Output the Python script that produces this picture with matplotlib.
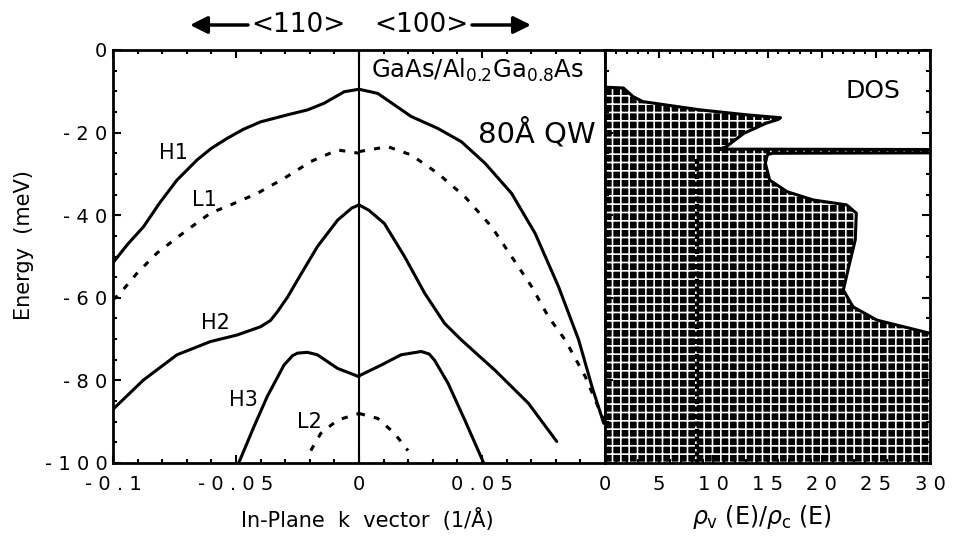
import numpy as np
import matplotlib.pyplot as plt
from matplotlib.ticker import MultipleLocator

plt.rcParams['font.family'] = ['DejaVu Sans']
plt.rcParams['hatch.linewidth'] = 1.2

# subband dispersions, left branch = <110>, right branch = <100>
h1_k_left = [-0.1, -0.094, -0.0876, -0.081, -0.074, -0.0658, -0.06, -0.0536, -0.047, -0.04, -0.0291, -0.0209, -0.0142, -0.006, 0]
h1_e_left = [-51.5, -47.0, -42.8, -37.0, -31.5, -26.6, -23.8, -21.4, -19.2, -17.4, -15.7, -14.5, -12.9, -10.1, -9.5]
h1_k_right = [0, 0.0076, 0.0144, 0.0212, 0.0321, 0.0416, 0.0512, 0.062, 0.0716, 0.0811, 0.0893, 0.0947, 0.0995]
h1_e_right = [-9.5, -10.5, -13.3, -16.1, -19.0, -22.2, -27.4, -34.7, -44.4, -57.3, -70.2, -81.5, -90.4]

l1_k_left = [-0.1, -0.0971, -0.0903, -0.0822, -0.0699, -0.0604, -0.0522, -0.0413, -0.0305, -0.0196, -0.0087, 0]
l1_e_left = [-60.5, -58.9, -54.1, -49.2, -43.6, -39.5, -37.5, -34.7, -31.1, -27.0, -24.2, -25.0]
l1_k_right = [0, 0.0117, 0.0212, 0.0321, 0.043, 0.0539, 0.062, 0.0702, 0.077, 0.0838, 0.092, 0.0995]
l1_e_right = [-24.6, -23.4, -25.4, -29.9, -35.5, -42.8, -50.0, -57.3, -64.6, -70.2, -79.1, -89.6]

h2_k_left = [-0.1, -0.0876, -0.074, -0.0604, -0.0495, -0.04, -0.036, -0.0332, -0.029, -0.025, -0.0169, -0.0087, -0.003, 0]
h2_e_left = [-87.0, -79.9, -73.8, -70.6, -69.0, -67.0, -65.5, -63.4, -59.8, -55.7, -47.6, -41.2, -38.3, -37.5]
h2_k_right = [0, 0.004, 0.0103, 0.0185, 0.0267, 0.0348, 0.0416, 0.0552, 0.0688, 0.0804]
h2_e_right = [-37.5, -38.8, -42.0, -50.0, -58.9, -66.2, -70.2, -77.5, -85.5, -94.8]

h3_k_left = [-0.0489, -0.0427, -0.0373, -0.0305, -0.027, -0.025, -0.021, -0.0169, -0.0087, 0]
h3_e_left = [-100, -91.2, -83.9, -76.3, -74.0, -73.4, -73.2, -73.8, -77.1, -79.1]
h3_k_right = [0, 0.009, 0.0171, 0.0253, 0.0285, 0.0307, 0.0362, 0.043, 0.0507]
h3_e_right = [-78.9, -76.3, -73.8, -73.0, -73.6, -75.1, -80.7, -89.6, -100]

l2_k_left = [-0.0196, -0.0155, -0.0087, 0]
l2_e_left = [-97.0, -92.8, -89.6, -88.0]
l2_k_right = [0, 0.0076, 0.0144, 0.0199]
l2_e_right = [-88.0, -89.2, -92.8, -97.0]

# density of states ratio boundary
dos_e = [0, -9.0, -9.2, -11.3, -12.5, -14.5, -15.7, -16.4, -16.8, -17.7, -20.2, -23.4, -24.0,
         -24.1, -24.9, -25.0, -25.3, -27.4, -31.5, -34.3, -36.3, -37.5, -39.5, -46.0, -52.5,
         -58.1, -62.2, -65.4, -68.6, -70.0, -100]
dos_val = [0, 0, 1.7, 2.6, 3.5, 8.8, 13.1, 16.2, 16.0, 14.9, 12.8, 11.2, 10.6,
           31, 31, 15.5, 15.0, 14.8, 15.2, 16.8, 19.2, 22.3, 23.2, 23.1, 22.5,
           22.0, 22.9, 25.1, 30.0, 31, 31]
stripe_x = 8.5
stripe_e = [-26.5, -100]

e_ticks = [0, -20, -40, -60, -80, -100]
k_ticks = [-0.1, -0.05, 0, 0.05]
k_labels = ['-0.1', '-0.05', '0', '0.05']
dos_ticks = [0, 5, 10, 15, 20, 25, 30]


def spaced(s):
    return ' '.join(s)


fig = plt.figure(figsize=(9.55, 5.48), dpi=100)
ax = fig.add_axes([113 / 955, 85 / 548, 492 / 955, 413 / 548])
ax2 = fig.add_axes([605 / 955, 85 / 548, 325 / 955, 413 / 548])

solid = dict(color='black', lw=2.2, solid_capstyle='round', solid_joinstyle='round')
dashed = dict(color='black', lw=2.2, linestyle=(0, (2.0, 3.0)))

ax.plot(h1_k_left, h1_e_left, **solid)
ax.plot(h1_k_right, h1_e_right, **solid)
ax.plot(h2_k_left, h2_e_left, **solid)
ax.plot(h2_k_right, h2_e_right, **solid)
ax.plot(h3_k_left, h3_e_left, **solid)
ax.plot(h3_k_right, h3_e_right, **solid)
ax.plot(l1_k_left, l1_e_left, **dashed)
ax.plot(l1_k_right, l1_e_right, **dashed)
ax.plot(l2_k_left, l2_e_left, **dashed)
ax.plot(l2_k_right, l2_e_right, **dashed)
ax.axvline(0, color='black', lw=1.5)

ax.set_xlim(-0.1, 0.1)
ax.set_ylim(-100, 0)
ax.set_xticks(k_ticks)
ax.set_xticklabels([spaced(s) for s in k_labels])
ax.set_yticks(e_ticks)
ax.set_yticklabels([spaced(str(v)) for v in e_ticks])
ax.xaxis.set_minor_locator(MultipleLocator(0.01))
ax.yaxis.set_minor_locator(MultipleLocator(5))
ax.tick_params(which='both', direction='in', top=True, right=False, width=1.5, labelsize=14)
ax.tick_params(which='major', length=6)
ax.tick_params(which='minor', length=3)
ax.tick_params(axis='x', pad=9)
ax.tick_params(axis='y', pad=4)

ax.text(-0.0755, -25, 'H1', fontsize=15, ha='center', va='center')
ax.text(-0.063, -36.3, 'L1', fontsize=15, ha='center', va='center')
ax.text(-0.0584, -66, 'H2', fontsize=15, ha='center', va='center')
ax.text(-0.047, -84.7, 'H3', fontsize=15, ha='center', va='center')
ax.text(-0.02, -90, 'L2', fontsize=15, ha='center', va='center')
ax.text(0.005, -1.6, r'GaAs/Al$_{0.2}$Ga$_{0.8}$As', fontsize=17.5, ha='left', va='top')
ax.text(0.096, -22.3, '80Å QW', fontsize=21, ha='right', va='baseline')

# DOS panel
ax2.fill([0] + dos_val + [0], [dos_e[0]] + dos_e + [dos_e[-1]],
         facecolor='black', edgecolor='white', hatch='++', lw=0)
ax2.plot(dos_val, dos_e, color='black', lw=2.2)
ax2.plot([stripe_x, stripe_x], stripe_e, color='black', lw=3, linestyle=(0, (1.2, 0.6)))
ax2.set_xlim(0, 30)
ax2.set_ylim(-100, 0)
ax2.set_xticks(dos_ticks)
ax2.set_xticklabels([spaced(str(v)) for v in dos_ticks])
ax2.set_yticks(e_ticks)
ax2.xaxis.set_minor_locator(MultipleLocator(1))
ax2.yaxis.set_minor_locator(MultipleLocator(5))
ax2.tick_params(which='both', direction='in', top=True, right=True, left=True,
                labelleft=False, width=1.5, labelsize=14)
ax2.tick_params(which='major', length=6)
ax2.tick_params(which='minor', length=3)
ax2.tick_params(axis='x', pad=9)
ax2.text(24.7, -11.6, 'DOS', fontsize=18, ha='center', va='baseline')

for a in (ax, ax2):
    for sp in a.spines.values():
        sp.set_linewidth(2.0)

# axis labels and direction header
fig.text(24 / 955, 1 - 245 / 548, 'Energy  (meV)', rotation=90, fontsize=15, ha='center', va='center')
fig.text(367 / 955, 1 - 520 / 548, 'In-Plane  k  vector  (1/Å)', fontsize=15, ha='center', va='center')
fig.text(762 / 955, 1 - 517 / 548, r'$\rho_{\rm v}$ (E)/$\rho_{\rm c}$ (E)', fontsize=17, ha='center', va='center')
fig.text(298 / 955, 1 - 25 / 548, '<110>', fontsize=19, ha='center', va='center')
fig.text(421 / 955, 1 - 25 / 548, '<100>', fontsize=19, ha='center', va='center')
arrow = dict(arrowstyle='-|>', lw=2.5, mutation_scale=26, color='black', shrinkA=0, shrinkB=0)
ax.annotate('', xy=(190, 523), xytext=(248, 523), xycoords='figure pixels',
            textcoords='figure pixels', arrowprops=arrow, annotation_clip=False)
ax.annotate('', xy=(531, 523), xytext=(472, 523), xycoords='figure pixels',
            textcoords='figure pixels', arrowprops=arrow, annotation_clip=False)

fig.savefig('out.png', dpi=100)
